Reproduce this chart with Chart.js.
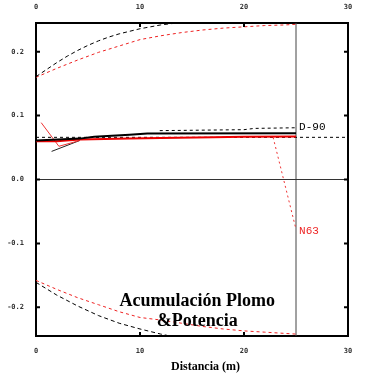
<!DOCTYPE html>
<html lang="es">
<head>
<meta charset="UTF-8">
<title>Acumulación Plomo &Potencia</title>
<script src="https://cdn.jsdelivr.net/npm/chart.js@4"></script>
<style>
  html, body { margin: 0; padding: 0; background: #fff; }
</style>
</head>
<body>
<canvas id="chart" width="373" height="376"></canvas>
<script>
// confidence bands (upper / lower), black and red
const upperBlackX = [0, 1, 2, 3, 4, 5, 6, 7, 8, 9, 10, 11, 12, 13, 13.8];
const upperBlackY = [0.161, 0.172, 0.183, 0.193, 0.202, 0.210, 0.217, 0.223, 0.228, 0.232, 0.236, 0.239, 0.242, 0.244, 0.245];
const upperRedX = [0, 2, 4, 6, 8, 10, 12, 14, 16, 18, 20, 22, 24, 25];
const upperRedY = [0.160, 0.174, 0.187, 0.199, 0.209, 0.219, 0.225, 0.230, 0.234, 0.237, 0.239, 0.241, 0.242, 0.243];
const lowerBlackX = [0, 2, 4, 6, 8, 10, 12, 12.6];
const lowerBlackY = [-0.161, -0.181, -0.198, -0.213, -0.225, -0.234, -0.242, -0.244];
const lowerRedX = [0, 2, 4, 6, 8, 10, 12, 14, 16, 18, 20, 22, 24, 25];
const lowerRedY = [-0.158, -0.172, -0.185, -0.196, -0.207, -0.216, -0.220, -0.225, -0.230, -0.234, -0.237, -0.239, -0.241, -0.242];

// reference / trend dashed lines
const refX = [0, 30];
const refY = [0.066, 0.066];
const trendX = [11.9, 20, 21, 25];
const trendY = [0.0765, 0.078, 0.080, 0.081];

// series D-90 (black)
const d90X = [0, 4.2, 5.6, 9, 10.7, 25];
const d90Y = [0.061, 0.064, 0.067, 0.070, 0.072, 0.0725];
const d90StartX = [1.5, 4.2];
const d90StartY = [0.044, 0.061];

// series N63 (red)
const n63X = [0, 2, 4.2, 9, 12, 17, 20, 25];
const n63Y = [0.060, 0.060, 0.0625, 0.064, 0.065, 0.066, 0.067, 0.0675];
const n63StartX = [0.5, 2.2, 4.2];
const n63StartY = [0.089, 0.052, 0.061];
const n63DropX = [22.8, 25];
const n63DropY = [0.066, -0.078];

// axes guides
const zeroX = [0, 30];
const zeroY = [0, 0];
const markX = [25, 25];
const markY = [-0.245, 0.245];

const xMin = 0, xMax = 30, yMin = -0.245, yMax = 0.245;

function pts(xs, ys) {
    return xs.map((x, i) => ({ x: x, y: ys[i] }));
}

function line(xs, ys, color, width, dash) {
    return {
        data: pts(xs, ys),
        showLine: true,
        borderColor: color,
        borderWidth: width,
        borderDash: dash || [],
        pointRadius: 0,
        fill: false,
        tension: 0
    };
}

// first dataset ends up on top
const datasets = [
    line(d90X, d90Y, '#000', 2),
    line(n63X, n63Y, '#ee0000', 2),
    line(n63StartX, n63StartY, '#ee3333', 1),
    line(d90StartX, d90StartY, '#222', 1),
    line(n63DropX, n63DropY, '#ee3333', 1, [2, 3]),
    line(refX, refY, '#000', 1, [3, 3]),
    line(trendX, trendY, '#000', 1, [3, 3]),
    line(upperBlackX, upperBlackY, '#000', 1, [4, 3]),
    line(upperRedX, upperRedY, '#ee2222', 1, [3, 3]),
    line(lowerBlackX, lowerBlackY, '#000', 1, [4, 3]),
    line(lowerRedX, lowerRedY, '#ee2222', 1, [3, 3]),
    line(zeroX, zeroY, '#333', 1),
    line(markX, markY, '#444', 1)
];

const tickFont = { family: '"DejaVu Sans Mono"', size: 7, weight: 'bold' };

// inward tick marks + text labels
const extras = {
    id: 'extras',
    afterDraw(chart) {
        const ctx = chart.ctx;
        const a = chart.chartArea;
        const x = chart.scales.x, y = chart.scales.y;
        ctx.save();
        ctx.strokeStyle = '#000';
        ctx.lineWidth = 2;
        ctx.beginPath();
        x.ticks.forEach(t => {
            const px = x.getPixelForValue(t.value);
            ctx.moveTo(px, a.top); ctx.lineTo(px, a.top + 4);
            ctx.moveTo(px, a.bottom); ctx.lineTo(px, a.bottom - 4);
        });
        y.ticks.forEach(t => {
            const py = y.getPixelForValue(t.value);
            ctx.moveTo(a.left, py); ctx.lineTo(a.left + 4, py);
            ctx.moveTo(a.right, py); ctx.lineTo(a.right - 4, py);
        });
        ctx.stroke();

        ctx.textBaseline = 'middle';
        ctx.textAlign = 'left';
        ctx.font = '11px "Liberation Mono"';
        ctx.fillStyle = '#000';
        ctx.fillText('D-90', x.getPixelForValue(25.3), y.getPixelForValue(0.082));
        ctx.fillStyle = '#ee2222';
        ctx.fillText('N63', x.getPixelForValue(25.3), y.getPixelForValue(-0.08));

        ctx.textAlign = 'center';
        ctx.fillStyle = '#000';
        ctx.font = 'bold 18px "Liberation Serif"';
        ctx.fillText('Acumulación Plomo', x.getPixelForValue(15.5), y.getPixelForValue(-0.19));
        ctx.fillText('&Potencia', x.getPixelForValue(15.5), y.getPixelForValue(-0.222));

        ctx.font = 'bold 12px "Liberation Serif"';
        ctx.fillText('Distancia (m)', x.getPixelForValue(16.3), a.bottom + 31);
        ctx.restore();
    }
};

const fmt = v => (Math.abs(v) < 1e-9 ? 0 : v).toFixed(1);

new Chart(document.getElementById('chart'), {
    type: 'scatter',
    data: { datasets: datasets },
    options: {
        responsive: false,
        animation: false,
        layout: { padding: 0 },
        plugins: { legend: { display: false }, tooltip: { enabled: false } },
        scales: {
            x: {
                type: 'linear', position: 'bottom', min: xMin, max: xMax,
                grid: { display: false },
                border: { display: true, color: '#000', width: 2 },
                ticks: { stepSize: 10, includeBounds: false, font: tickFont, color: '#333', padding: 3, maxRotation: 0 },
                afterFit: s => { s.height = 40; }
            },
            x2: {
                type: 'linear', position: 'top', min: xMin, max: xMax,
                grid: { display: false },
                border: { display: true, color: '#000', width: 2 },
                ticks: { stepSize: 10, includeBounds: false, font: tickFont, color: '#333', padding: 4, maxRotation: 0 },
                afterFit: s => { s.height = 23; }
            },
            y: {
                type: 'linear', position: 'left', min: yMin, max: yMax,
                grid: { display: false },
                border: { display: true, color: '#000', width: 2 },
                ticks: { stepSize: 0.1, includeBounds: false, font: tickFont, color: '#333', padding: 4, callback: fmt },
                afterFit: s => { s.width = 36; }
            },
            y2: {
                type: 'linear', position: 'right', min: yMin, max: yMax,
                grid: { display: false },
                border: { display: true, color: '#000', width: 2 },
                ticks: { display: false },
                afterFit: s => { s.width = 25; }
            }
        }
    },
    plugins: [extras]
});
</script>
</body>
</html>
